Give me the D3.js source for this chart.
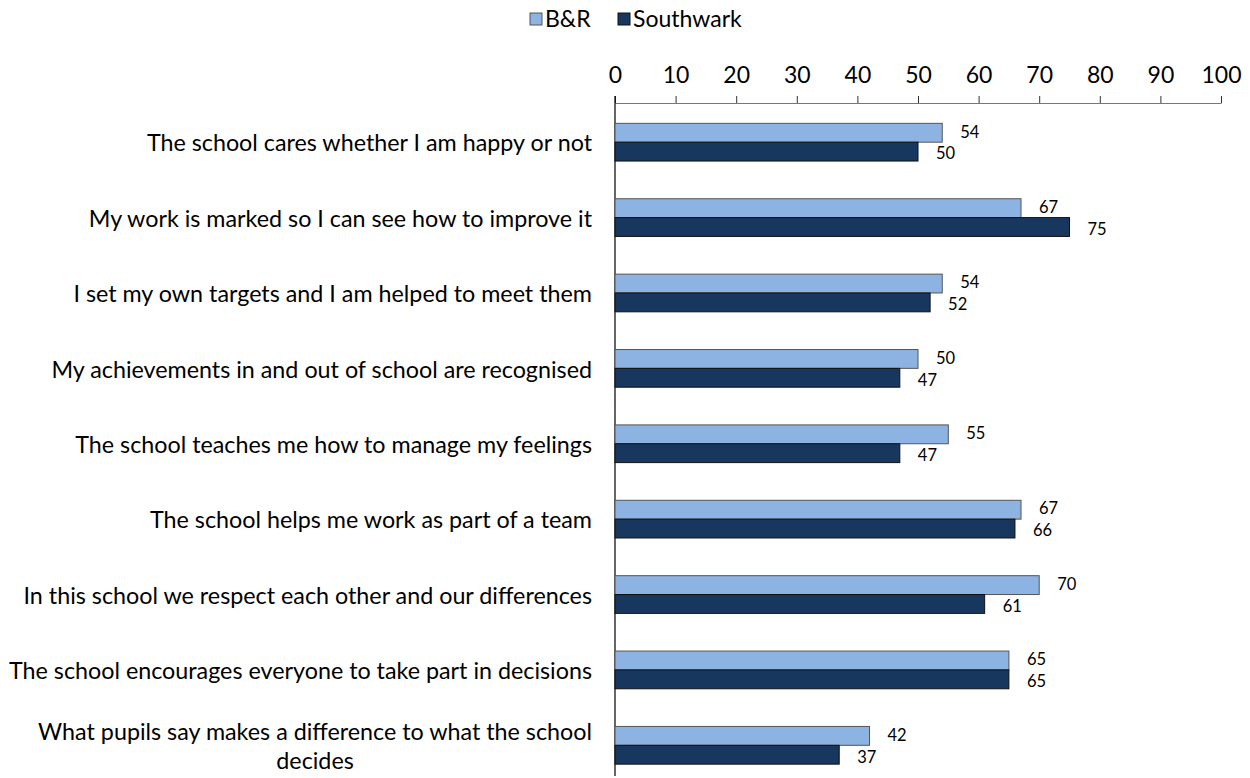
<!DOCTYPE html>
<html><head><meta charset="utf-8">
<script src="https://cdn.jsdelivr.net/npm/d3@7"></script>
<style>body{margin:0;background:#fff}text{font-family:Lato,"Open Sans",sans-serif;fill:#000}</style>
</head><body><svg id="c" width="1250" height="778"></svg>
<script>
const categories = [
 ["The school cares whether I am happy or not"],
 ["My work is marked so I can see how to improve it"],
 ["I set my own targets and I am helped to meet them"],
 ["My achievements in and out of school are recognised"],
 ["The school teaches me how to manage my feelings"],
 ["The school helps me work as part of a team"],
 ["In this school we respect each other and our differences"],
 ["The school encourages everyone to take part in decisions"],
 ["What pupils say makes a difference to what the school","decides"]
];
const seriesNames = ["B&R","Southwark"];
const brValues = [54,67,54,50,55,67,70,65,42];
const southwarkValues = [50,75,52,47,47,66,61,65,37];
const tickValues = [0,10,20,30,40,50,60,70,80,90,100];
const colors = ["#8DB3E2","#17375E"];
const strokes = ["#555","#111"];

const svg = d3.select("#c");
const x = d3.scaleLinear().domain([0,100]).range([615,1221]);
const y = d3.scaleBand().domain(d3.range(categories.length)).range([104.5,783]).paddingInner(0.5).paddingOuter(0.25);
const inner = d3.scaleBand().domain([0,1]).range([0,y.bandwidth()]);

// axis
const ax = svg.append("g").attr("transform","translate(0,103)")
  .call(d3.axisTop(x).tickValues(tickValues).tickSize(7).tickPadding(13).tickSizeOuter(0));
ax.select(".domain").attr("stroke","#777");
ax.selectAll(".tick line").attr("stroke","#333");
ax.selectAll("text").style("font-size","23px").style("font-family","Lato,sans-serif").attr("fill","#000");
svg.append("line").attr("x1",615).attr("x2",615).attr("y1",96).attr("y2",776).attr("stroke","#000").attr("stroke-width",1.2);

const vals = [brValues, southwarkValues];
vals.forEach((arr,s)=>{
  const g = svg.append("g");
  g.selectAll("rect").data(arr).join("rect")
    .attr("x",x(0)).attr("y",(d,i)=>y(i)+inner(s))
    .attr("width",d=>x(d)-x(0)).attr("height",inner.bandwidth())
    .attr("fill",colors[s]).attr("stroke",strokes[s]).attr("stroke-width",1);
  g.selectAll("text").data(arr).join("text")
    .attr("x",d=>x(d)+18).attr("y",(d,i)=>y(i)+inner(s)+inner.bandwidth()/2+(s===0?-1:2))
    .attr("dy","0.35em").style("font-size","16.5px").text(d=>d);
});

// category labels
categories.forEach((lines,i)=>{
  const cy = y(i)+y.bandwidth()/2;
  const lh = 29;
  const g = svg.append("g");
  const ts = lines.map((l,k)=>g.append("text").attr("x",592).attr("text-anchor","end")
     .attr("y",cy+1+(k-(lines.length-1)/2)*lh).attr("dy","0.35em").style("font-size","23.3px").text(l));
  if(lines.length>1){
    const w = ts.map(t=>t.node().getComputedTextLength());
    const mw = Math.max(...w);
    const center = 592 - mw/2;
    ts.forEach(t=>t.attr("x",center).attr("text-anchor","middle"));
  }
});

// legend
const leg = svg.append("g");
const legX = [530,618];
seriesNames.forEach((n,s)=>{
  leg.append("rect").attr("x",legX[s]).attr("y",13).attr("width",12).attr("height",12)
    .attr("fill",colors[s]).attr("stroke",strokes[s]);
  leg.append("text").attr("x",legX[s]+15).attr("y",27).style("font-size","23px").text(n);
});
</script></body></html>
